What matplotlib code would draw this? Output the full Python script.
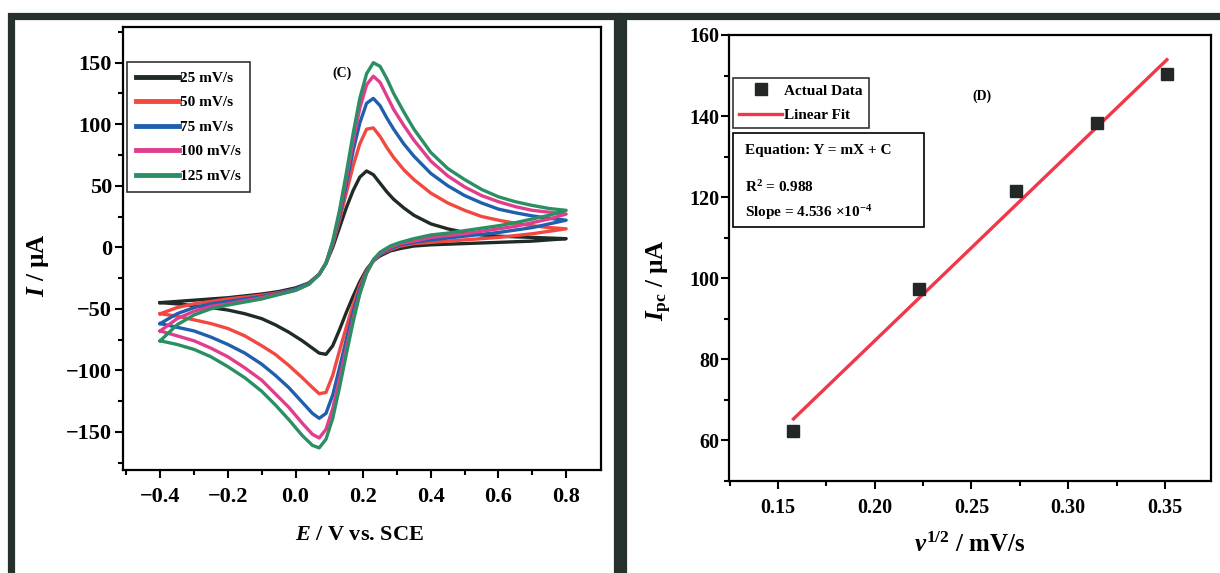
import matplotlib
matplotlib.use("Agg")
import matplotlib.pyplot as plt
from matplotlib.patches import Rectangle
import numpy as np

plt.rcParams['font.family'] = ['Liberation Serif', 'DejaVu Serif']
plt.rcParams['font.weight'] = 'bold'
plt.rcParams['mathtext.fontset'] = 'custom'
plt.rcParams['mathtext.rm'] = 'Liberation Serif:bold'
plt.rcParams['mathtext.bf'] = 'Liberation Serif:bold'
plt.rcParams['mathtext.it'] = 'Liberation Serif:italic:bold'

# --- panel (C): cyclic voltammograms ---
scan_labels = ['25 mV/s', '50 mV/s', '75 mV/s', '100 mV/s', '125 mV/s']
cv_colors = ['#1f2b26', '#f2483f', '#1f5fae', '#e23d8c', '#2a9063']

E_forward = [-0.4, -0.35, -0.3, -0.25, -0.2, -0.15, -0.1, -0.05, 0.0, 0.04, 0.07, 0.09, 0.11,
             0.13, 0.15, 0.17, 0.19, 0.21, 0.23, 0.25, 0.27, 0.29, 0.32, 0.35, 0.40, 0.45,
             0.50, 0.55, 0.60, 0.65, 0.70, 0.75, 0.80]
E_reverse = [0.80, 0.75, 0.70, 0.65, 0.60, 0.55, 0.50, 0.45, 0.40, 0.35, 0.31, 0.28, 0.25,
             0.23, 0.21, 0.19, 0.17, 0.15, 0.13, 0.11, 0.09, 0.07, 0.05, 0.02, -0.02, -0.06,
             -0.10, -0.15, -0.20, -0.25, -0.30, -0.35, -0.40]

I_fwd_25 = [-45, -44, -43, -42, -41, -39.5, -38, -36, -33, -29, -22, -13, 0, 16, 32, 46, 57, 62,
            59, 52, 45, 39, 32, 26, 19, 15, 12, 10, 9, 8.5, 8, 7.5, 7]
I_fwd_50 = [-54, -49, -46, -44, -42, -40.5, -39, -37, -34, -29, -22, -13, 2, 22, 44, 66, 84, 96,
            97, 90, 81, 73, 63, 55, 44, 36, 30, 25, 22, 19.5, 17.5, 16, 15]
I_fwd_75 = [-62, -54, -49, -46, -44, -42, -40, -37.5, -34, -29, -22, -13, 3, 25, 51, 78, 101, 117,
            121, 115, 105, 96, 84, 74, 60, 50, 42, 36, 31, 28, 25.5, 23.5, 22]
I_fwd_100 = [-68, -58, -52, -48, -46, -43.5, -41, -38, -35, -30, -22, -13, 4, 28, 56, 86, 113, 132,
             139, 134, 123, 112, 99, 87, 70, 58, 49, 42, 37, 33, 30, 28.5, 27]
I_fwd_125 = [-76, -63, -55, -50, -47, -44.5, -42, -38.5, -35, -30, -22, -13, 5, 30, 60, 92, 121, 141,
             150, 147, 137, 125, 110, 96, 77, 64, 55, 47, 41, 37, 34, 31.5, 30]

I_rev_25 = [7, 6, 5, 4.5, 4, 3.5, 3, 2.5, 2, 1, -1, -3, -7, -11, -18, -28, -40, -53, -67, -80,
            -87, -86, -82, -76, -69, -63, -58, -54, -51, -49, -47.5, -46, -45]
I_rev_50 = [15, 13, 11, 9.5, 8, 7, 6, 5, 4, 3, 1, -2, -6, -11, -19, -31, -47, -65, -84, -104,
            -118, -119, -114, -106, -96, -87, -80, -72, -66, -62, -59, -56, -54]
I_rev_75 = [22, 19, 16, 14, 12, 10.5, 9, 7.5, 6, 4, 2, -1, -6, -11, -20, -34, -53, -75, -98, -120,
            -135, -139, -135, -126, -114, -104, -95, -86, -79, -73, -68, -65, -62]
I_rev_100 = [27, 23, 20, 17, 15, 13, 11, 9.5, 8, 5, 3, 0, -5, -11, -21, -37, -58, -82, -107, -131,
             -148, -155, -152, -143, -130, -119, -108, -98, -89, -82, -76, -72, -68]
I_rev_125 = [30, 26, 23, 20, 17.5, 15.5, 13.5, 11.5, 10, 7, 4, 1, -4, -10, -21, -38, -61, -87, -114,
             -139, -156, -163, -161, -153, -140, -128, -117, -106, -97, -89, -83, -79, -76]

I_forward = [I_fwd_25, I_fwd_50, I_fwd_75, I_fwd_100, I_fwd_125]
I_reverse = [I_rev_25, I_rev_50, I_rev_75, I_rev_100, I_rev_125]

# --- panel (D): peak current vs sqrt(scan rate) ---
v_sqrt = [0.158, 0.223, 0.273, 0.315, 0.351]
I_peak = [62.3, 97.3, 121.5, 138.4, 150.3]

fig = plt.figure(figsize=(12.2, 5.73), dpi=100)

# dark frames around the two panels
frame_col = '#26302c'
fig.patches.append(Rectangle((11/1220, -0.1), (617-11)/1220, 1.1 - 16/573, transform=fig.transFigure,
                             fill=False, edgecolor=frame_col, linewidth=5.2, zorder=0))
fig.patches.append(Rectangle((623/1220, -0.1), 0.6, 1.1 - 16/573, transform=fig.transFigure,
                             fill=False, edgecolor=frame_col, linewidth=5.2, zorder=0))

ax1 = fig.add_axes([123/1220, 1 - 470/573, (601-123)/1220, (470-27)/573])
for lab, col, i_f, i_r in zip(scan_labels, cv_colors, I_forward, I_reverse):
    ax1.plot(E_forward + E_reverse, i_f + i_r, color=col, lw=2.4, label=lab, solid_joinstyle='round')

ax1.set_xlim(-0.51, 0.903)
ax1.set_ylim(-181, 179)
ax1.set_xticks([-0.4, -0.2, 0.0, 0.2, 0.4, 0.6, 0.8])
ax1.set_xticklabels(['\u22120.4', '\u22120.2', '0.0', '0.2', '0.4', '0.6', '0.8'])
ax1.set_xticks(np.arange(-0.5, 0.9, 0.1), minor=True)
ax1.set_yticks([-150, -100, -50, 0, 50, 100, 150])
ax1.set_yticklabels(['\u2212150', '\u2212100', '\u221250', '0', '50', '100', '150'])
ax1.set_yticks(np.arange(-175, 180, 25), minor=True)
ax1.set_xlabel(r'$E$ / V vs. SCE', fontsize=16, fontweight='bold')
ax1.set_ylabel(r'$I$ / µA', fontsize=18, fontweight='bold')
ax1.xaxis.set_label_coords(0.494, -0.124)
ax1.yaxis.set_label_coords(-0.15, 0.463)
ax1.text(0.458, 0.896, '(C)', transform=ax1.transAxes, fontsize=10, fontweight='bold',
         ha='center', va='center')
leg1 = ax1.legend(loc='upper left', bbox_to_anchor=(0.008, 0.921), borderaxespad=0,
                  fontsize=11, frameon=True, fancybox=False, edgecolor='black',
                  handlelength=2.8, handletextpad=0.1, labelspacing=0.71, borderpad=0.6)
leg1.get_frame().set_linewidth(1.2)
for line in leg1.get_lines():
    line.set_linewidth(3.5)

ax2 = fig.add_axes([729/1220, 1 - 481/573, (1211-729)/1220, (481-35)/573])
ax2.plot(v_sqrt, I_peak, 's', color='#232826', ms=9, label='Actual Data', zorder=3)
m, c = np.polyfit(v_sqrt, I_peak, 1)
xfit = np.array([v_sqrt[0], v_sqrt[-1]])
ax2.plot(xfit, m * xfit + c, color='#f0384a', lw=2.4, label='Linear Fit', zorder=2)
ax2.set_xlim(0.1247, 0.3738)
ax2.set_ylim(50, 160)
ax2.set_xticks([0.15, 0.20, 0.25, 0.30, 0.35])
ax2.set_xticks(np.arange(0.125, 0.375, 0.025), minor=True)
ax2.set_yticks([60, 80, 100, 120, 140, 160])
ax2.set_yticks(np.arange(50, 161, 10), minor=True)
ax2.set_xlabel(r'$\nu^{1/2}$ / mV/s', fontsize=18, fontweight='bold')
ax2.set_ylabel(r'$I_{\mathrm{pc}}$ / µA', fontsize=18, fontweight='bold')
ax2.xaxis.set_label_coords(0.5, -0.115)
ax2.yaxis.set_label_coords(-0.115, 0.451)
ax2.text(0.525, 0.863, '(D)', transform=ax2.transAxes, fontsize=10, fontweight='bold',
         ha='center', va='center')
leg2 = ax2.legend(loc='upper left', bbox_to_anchor=(0.0083, 0.9036), borderaxespad=0,
                  fontsize=11, frameon=True, fancybox=False, edgecolor='black',
                  handlelength=2.8, handletextpad=0.15, labelspacing=0.68, borderpad=0.4)
leg2.get_frame().set_linewidth(1.2)
ax2.add_patch(Rectangle((0.0083, 0.5695), 0.4046 - 0.0083, 0.7803 - 0.5695, transform=ax2.transAxes,
                        fill=False, edgecolor='black', lw=1.2, zorder=4))
ax2.text(0.0332, 0.742, 'Equation: Y = mX + C', transform=ax2.transAxes, fontsize=11,
         fontweight='bold', va='center')
ax2.text(0.0332, 0.659, 'R$^2$ = 0.988', transform=ax2.transAxes, fontsize=11,
         fontweight='bold', va='center')
ax2.text(0.0332, 0.601, 'Slope = 4.536 \u00d710$^{-4}$', transform=ax2.transAxes, fontsize=11,
         fontweight='bold', va='center')

for ax, lpad, lsize in ((ax1, 2, 16), (ax2, 1, 14.5)):
    for s in ax.spines.values():
        s.set_linewidth(1.6)
    ax.tick_params(which='both', direction='out', top=False, right=False, width=1.5)
    ax.tick_params(which='major', length=6, labelsize=lsize)
    ax.tick_params(which='minor', length=3.5)
    ax.tick_params(axis='x', which='major', pad=6)
    ax.tick_params(axis='y', which='major', pad=lpad)
    for t in ax.get_xticklabels() + ax.get_yticklabels():
        t.set_fontweight('bold')

fig.savefig('out.png', dpi=100)
